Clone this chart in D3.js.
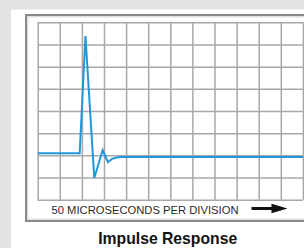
<!DOCTYPE html>
<html>
<head>
<meta charset="utf-8">
<script src="https://cdn.jsdelivr.net/npm/d3@7"></script>
<style>
  html, body { margin: 0; padding: 0; background: #e3e3e5; }
  svg { display: block; }
</style>
</head>
<body>
<div id="chart"></div>
<script>
// time in microseconds, amplitude in grid divisions (from bottom)
const timeUs = [0, 95, 108, 128, 147, 159, 168, 181, 193, 600];
const amplitude = [2.09, 2.09, 7.38, 0.98, 2.24, 1.69, 1.84, 1.91, 1.93, 1.93];
const xTicks = d3.range(0, 601, 50);
const yTicks = d3.range(0, 9, 1);
const axisLabel = "50 MICROSECONDS PER DIVISION";
const title = "Impulse Response";

const W = 304, H = 248;
let margin = {top: 22.3, left: 37.7};
let gridW = 265.2, gridH = 177.4;

let svg = d3.select("#chart").append("svg")
  .attr("width", W)
  .attr("height", H);

// white panel
svg.append("rect")
  .attr("x", 11).attr("y", 9.5)
  .attr("width", W).attr("height", H)
  .attr("fill", "#fff");

// outer frame, double line
svg.append("rect")
  .attr("x", 26).attr("y", 15)
  .attr("width", 300).attr("height", 206)
  .attr("fill", "none")
  .attr("stroke", "#8a8a8a")
  .attr("stroke-width", 2);
svg.append("rect")
  .attr("x", 27.8).attr("y", 16.8)
  .attr("width", 300).attr("height", 202.4)
  .attr("fill", "none")
  .attr("stroke", "#d0d0d0")
  .attr("stroke-width", 1);

let x = d3.scaleLinear().domain([0, 600]).range([0, gridW]);
let y = d3.scaleLinear().domain([0, 8]).range([gridH, 0]);

const g = svg.append("g").attr("transform", "translate(" + margin.left + "," + margin.top + ")");

// grid from axes
let gx = g.append("g")
  .attr("transform", "translate(0," + gridH + ")")
  .call(d3.axisBottom(x).tickValues(xTicks).tickSize(-gridH).tickFormat(""));
let gy = g.append("g")
  .call(d3.axisLeft(y).tickValues(yTicks).tickSize(-gridW).tickFormat(""));
[gx, gy].forEach(a => {
  a.select(".domain").remove();
  a.selectAll("line").attr("stroke", "#a8a8a8").attr("stroke-width", 1.5);
});

// waveform
let line = d3.line()
  .x((d, i) => x(timeUs[i]))
  .y(d => y(d));
g.append("path")
  .datum(amplitude)
  .attr("d", line)
  .attr("fill", "none")
  .attr("stroke", "#2196d8")
  .attr("stroke-width", 2)
  .attr("stroke-linejoin", "miter");

// axis label and arrow
svg.append("text")
  .attr("x", 51.5).attr("y", 213.6)
  .attr("font-family", "Liberation Sans, Arial, sans-serif")
  .attr("font-size", 11.8)
  .attr("textLength", 187)
  .attr("lengthAdjust", "spacingAndGlyphs")
  .attr("fill", "#2a2a2a")
  .text(axisLabel);

svg.append("line")
  .attr("x1", 251.5).attr("x2", 274)
  .attr("y1", 208.5).attr("y2", 208.5)
  .attr("stroke", "#111")
  .attr("stroke-width", 3);
svg.append("path")
  .attr("d", "M271.5,203.8 L287.5,208.5 L271.5,213.2 Z")
  .attr("fill", "#111");

// title
svg.append("text")
  .attr("x", 167.7).attr("y", 244.3)
  .attr("text-anchor", "middle")
  .attr("font-family", "Liberation Sans, Arial, sans-serif")
  .attr("font-weight", "bold")
  .attr("font-size", 16.5)
  .attr("textLength", 139)
  .attr("lengthAdjust", "spacingAndGlyphs")
  .attr("fill", "#111")
  .text(title);
</script>
</body>
</html>
